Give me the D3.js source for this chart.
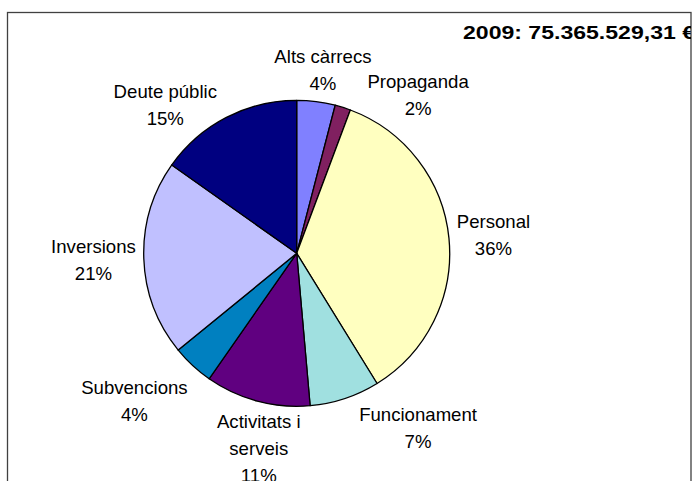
<!DOCTYPE html>
<html>
<head>
<meta charset="utf-8">
<script src="https://cdn.jsdelivr.net/npm/d3@7"></script>
<style>
  body { margin: 0; background: #fff; }
  text { font-family: "Liberation Sans", Arial, sans-serif; }
</style>
</head>
<body>
<svg id="chart"></svg>
<script>
const width = 694;
const height = 481;

// data (share of the 2009 budget, %)
const categories = ["Alts càrrecs", "Propaganda", "Personal", "Funcionament",
    "Activitats i serveis", "Subvencions", "Inversions", "Deute públic"];
const shares = [4.05, 1.65, 35.5, 7.4, 11.1, 4.4, 20.7, 15.2];
const percentLabels = ["4%", "2%", "36%", "7%", "11%", "4%", "21%", "15%"];
const labelLines = [["Alts càrrecs"], ["Propaganda"], ["Personal"], ["Funcionament"],
    ["Activitats i", "serveis"], ["Subvencions"], ["Inversions"], ["Deute públic"]];
const colors = ["#8080ff", "#802060", "#ffffc0", "#a0e0e0",
    "#600080", "#0080c0", "#c0c0ff", "#000080"];
const title = "2009: 75.365.529,31 €";

// label placement tweaks, like Excel's best fit
const labelShiftDeg = [0, 16.7, 0, -12.6, -4, 1.5, 0, -10.8];
const labelPushPx = [-3, 4, 0, 16, -3, 18, 0, 0];

const cx = 296.7;
const cy = 253.3;
const radius = 153;
const gap = 8;
const lineH = 27;

const svg = d3.select("#chart")
    .attr("width", width)
    .attr("height", height);

// frame
const frame = { x: 7.5, y: 12.5, w: 683.5, h: 480 };

svg.append("clipPath")
    .attr("id", "frameClip")
    .append("rect")
    .attr("x", frame.x)
    .attr("y", frame.y)
    .attr("width", frame.w)
    .attr("height", frame.h);

svg.append("rect")
    .attr("x", frame.x)
    .attr("y", frame.y)
    .attr("width", frame.w)
    .attr("height", frame.h)
    .attr("fill", "#fff")
    .attr("stroke", "#404040")
    .attr("stroke-width", 1.3);

svg.append("text")
    .attr("clip-path", "url(#frameClip)")
    .attr("x", 463)
    .attr("y", 39.3)
    .attr("textLength", 232)
    .attr("lengthAdjust", "spacingAndGlyphs")
    .style("font-size", "18.6px")
    .style("font-weight", "bold")
    .text(title);

const pie = d3.pie()
    .sort(null)
    .value(d => d.value);

const data = categories.map((c, i) => ({
    name: c,
    value: shares[i],
    pct: percentLabels[i],
    lines: labelLines[i],
    color: colors[i],
    shift: labelShiftDeg[i],
    push: labelPushPx[i]
}));

const arcs = pie(data);

const arc = d3.arc()
    .innerRadius(0)
    .outerRadius(radius);

const g = svg.append("g")
    .attr("transform", `translate(${cx},${cy})`);

g.selectAll("path")
    .data(arcs)
    .enter()
    .append("path")
    .attr("d", arc)
    .attr("fill", d => d.data.color)
    .attr("stroke", "#000")
    .attr("stroke-width", 1.3)
    .attr("stroke-linejoin", "round");

// labels
const labels = g.selectAll("text.label")
    .data(arcs)
    .enter()
    .append("text")
    .attr("class", "label")
    .attr("text-anchor", "middle")
    .style("font-size", "18.6px")
    .attr("fill", "#000");

labels.each(function (d) {
    const t = d3.select(this);
    const lines = d.data.lines.concat([d.data.pct]);
    lines.forEach(l => t.append("tspan").text(l));

    let w = 0;
    t.selectAll("tspan").each(function () {
        w = Math.max(w, this.getComputedTextLength());
    });
    const h = lines.length * lineH;

    const a = (d.startAngle + d.endAngle) / 2 + d.data.shift * Math.PI / 180;
    const r = radius + gap + d.data.push;
    const lx = Math.sin(a) * (r + w / 2);
    const ly = -Math.cos(a) * (r + h / 2);

    t.selectAll("tspan")
        .attr("x", lx)
        .attr("y", (l, i) => ly - h / 2 + 20 + i * lineH);
});
</script>
</body>
</html>
